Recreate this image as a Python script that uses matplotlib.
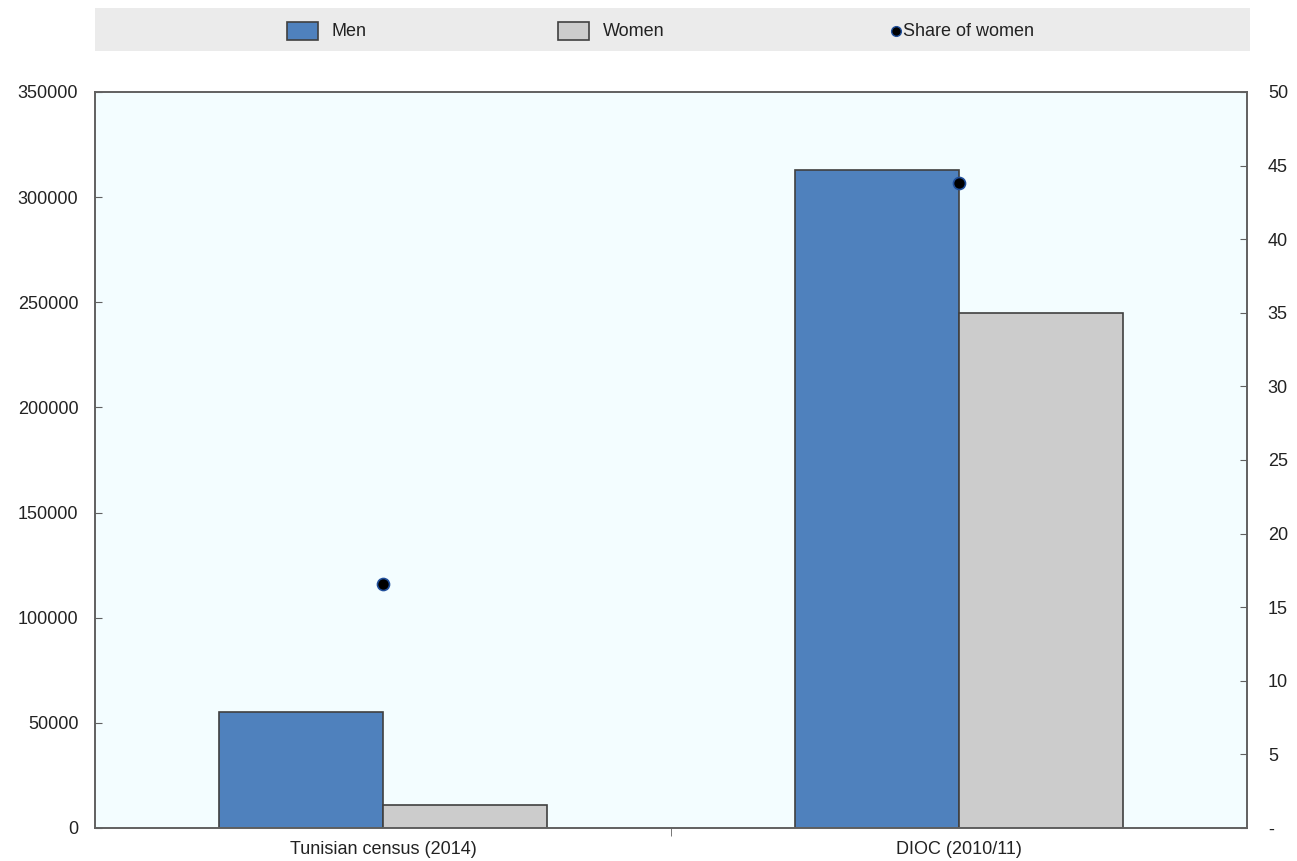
import matplotlib.pyplot as plt
import matplotlib.patches as mpatches
import numpy as np

plt.rcParams['font.family'] = ['Liberation Sans', 'DejaVu Sans']

# data
categories = ['Tunisian census (2014)', 'DIOC (2010/11)']
men = [55000, 313000]
women = [11000, 245000]
share_women = [16.6, 43.8]

left_ticks = [0, 50000, 100000, 150000, 200000, 250000, 300000, 350000]
right_ticks = [0, 5, 10, 15, 20, 25, 30, 35, 40, 45, 50]
right_labels = ['-', '5', '10', '15', '20', '25', '30', '35', '40', '45', '50']

men_col = '#4f81bd'
women_col = '#cccccc'
edge_col = '#404040'
spine_col = '#606060'
text_col = '#222222'

W, H = 1297, 861
fig = plt.figure(figsize=(W/100, H/100), dpi=100)
ax = fig.add_axes([95/W, 1-828/H, 1152/W, 736/H])
ax.set_facecolor('#f3fdff')

x = np.arange(len(categories))
w = 0.285
ax.bar(x - w/2, men, w, color=men_col, edgecolor=edge_col, linewidth=1.2, zorder=2)
ax.bar(x + w/2, women, w, color=women_col, edgecolor=edge_col, linewidth=1.2, zorder=2)

ax.set_xlim(-0.5, 1.5)
ax.set_ylim(0, 350000)
ax.set_yticks(left_ticks)
ax.set_yticklabels([str(v) for v in left_ticks])
ax.set_xticks(x)
ax.set_xticklabels(categories)
ax.set_xticks([0.5], minor=True)
ax.tick_params(axis='x', which='major', length=0, pad=9, labelsize=13, colors=text_col)
ax.tick_params(axis='x', which='minor', length=6, direction='out', color=spine_col)
ax.tick_params(axis='y', direction='in', length=5, color=spine_col, labelsize=13,
               labelcolor=text_col, pad=12)
for s in ax.spines.values():
    s.set_color(spine_col)
    s.set_linewidth(1.2)

ax2 = ax.twinx()
ax2.set_ylim(0, 50)
ax2.set_yticks(right_ticks)
ax2.set_yticklabels(right_labels)
ax2.tick_params(axis='y', direction='in', length=5, color=spine_col, labelsize=13,
                labelcolor=text_col, pad=15)
ax2.scatter(x, share_women, s=75, color='black', edgecolor='#1f4e9a', linewidth=1.2, zorder=5)
for s in ax2.spines.values():
    s.set_color(spine_col)
    s.set_linewidth(1.2)

# legend strip, drawn by hand in figure pixels
def fx(px):
    return px / W

def fy(py):
    return 1 - py / H

fig.patches.append(mpatches.Rectangle((fx(95), fy(51)), fx(1155), 43/H, transform=fig.transFigure,
                                      facecolor='#ebebeb', edgecolor='none'))
fig.patches.append(mpatches.Rectangle((fx(287), fy(40)), fx(31), 18/H, transform=fig.transFigure,
                                      facecolor=men_col, edgecolor=edge_col, linewidth=1.2))
fig.text(fx(331), fy(31), 'Men', fontsize=13, va='center', ha='left', color=text_col)
fig.patches.append(mpatches.Rectangle((fx(558), fy(40)), fx(31), 18/H, transform=fig.transFigure,
                                      facecolor=women_col, edgecolor=edge_col, linewidth=1.2))
fig.text(fx(603), fy(31), 'Women', fontsize=13, va='center', ha='left', color=text_col)
fig.lines.append(plt.Line2D([fx(896)], [fy(31)], transform=fig.transFigure, marker='o',
                            markersize=7, color='black', markeredgecolor='#1f4e9a', linestyle='none'))
fig.text(fx(903), fy(31), 'Share of women', fontsize=13, va='center', ha='left', color=text_col)

fig.savefig('out.png', dpi=100)
